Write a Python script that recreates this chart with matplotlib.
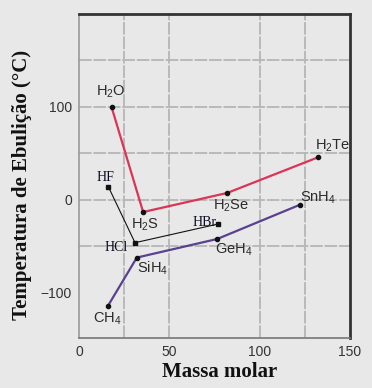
import matplotlib
matplotlib.use("Agg")
import matplotlib.pyplot as plt

# Data
grp16_names = ["H$_2$O", "H$_2$S", "H$_2$Se", "H$_2$Te"]
grp16_mass = [18, 35.5, 82, 132.5]
grp16_bp = [100, -13, 7.5, 46]

grp14_names = ["CH$_4$", "SiH$_4$", "GeH$_4$", "SnH$_4$"]
grp14_mass = [16, 32, 76.5, 122.5]
grp14_bp = [-114, -62, -42, -5]

grp17_names = ["HF", "HCl", "HBr"]
grp17_mass = [16.3, 31, 76.7]
grp17_bp = [14, -46, -26]

x_ticks = [0, 50, 100, 150]
y_ticks = [-100, 0, 100]
x_grid = [25, 50, 100, 125]
y_grid = [-50, 0, 50, 100, 150]

plt.rcParams['mathtext.default'] = 'regular'
BG = '#e8e8e8'
fig = plt.figure(figsize=(3.72, 3.88), dpi=100, facecolor=BG)
ax = fig.add_axes([79/372, 1-338/388, 271/372, 324/388], facecolor=BG)
ax.set_xlim(0, 150)
ax.set_ylim(-148.5, 200)

for gx in x_grid:
    ax.axvline(gx, color='#b6b6b6', lw=1.3, ls=(0, (7, 1)), zorder=0)
for gy in y_grid:
    ax.axhline(gy, color='#b6b6b6', lw=1.3, ls=(0, (7, 1)), zorder=0)

red = '#dc3455'
purple = '#5b3f90'
ax.plot(grp16_mass, grp16_bp, color=red, lw=1.6, zorder=2)
ax.plot(grp16_mass, grp16_bp, 'o', color='#111111', ms=3, zorder=3)
ax.plot(grp14_mass, grp14_bp, color=purple, lw=1.6, zorder=2)
ax.plot(grp14_mass, grp14_bp, 'o', color='#111111', ms=3, zorder=3)
ax.plot(grp17_mass, grp17_bp, color='#111111', lw=0.8, zorder=2)
ax.plot(grp17_mass, grp17_bp, 's', color='#111111', ms=2.5, zorder=3)

chem_font = dict(family='Liberation Sans', size=10.5, color='#2a2a2a')
# label offsets in pixels: (dx, dy, ha, va)
off16 = [(-1, 7, 'center', 'bottom'), (2, -5, 'center', 'top'),
         (4, -5, 'center', 'top'), (-3, 3, 'left', 'bottom')]
off14 = [(-1, -5, 'center', 'top'), (0, -2, 'left', 'top'),
         (-2, -3, 'left', 'top'), (0, -1, 'left', 'bottom')]
for n, x, y, o in zip(grp16_names, grp16_mass, grp16_bp, off16):
    ax.annotate(n, (x, y), xytext=(o[0], o[1]), textcoords='offset pixels',
                ha=o[2], va=o[3], **chem_font)
for n, x, y, o in zip(grp14_names, grp14_mass, grp14_bp, off14):
    ax.annotate(n, (x, y), xytext=(o[0], o[1]), textcoords='offset pixels',
                ha=o[2], va=o[3], **chem_font)

hal_font = dict(family='Liberation Serif', size=10, color='#0a0a20')
off17 = [(-3, 3, 'center', 'bottom'), (-7, -5, 'right', 'center'),
         (-1, 2, 'right', 'center')]
for n, x, y, o in zip(grp17_names, grp17_mass, grp17_bp, off17):
    ax.annotate(n, (x, y), xytext=(o[0], o[1]), textcoords='offset pixels',
                ha=o[2], va=o[3], **hal_font)

ax.set_xticks(x_ticks)
ax.set_yticks(y_ticks)
ax.set_xticklabels([str(v) for v in x_ticks])
ax.set_yticklabels(["\u2212100" if v == -100 else str(v) for v in y_ticks])
ax.tick_params(length=0, labelsize=10, colors='#333333', pad=5)
for lab in ax.get_xticklabels() + ax.get_yticklabels():
    lab.set_family('Liberation Sans')

ax.spines['top'].set_color('#333333')
ax.spines['top'].set_linewidth(2)
ax.spines['right'].set_color('#333333')
ax.spines['right'].set_linewidth(2)
ax.spines['left'].set_color('#999999')
ax.spines['left'].set_linewidth(1.2)
ax.spines['bottom'].set_color('#777777')
ax.spines['bottom'].set_linewidth(1.2)

fig.text(220/372, 1-372/388, "Massa molar", ha='center', va='center',
         family='Liberation Serif', weight='bold', size=15, color='#111111')
fig.text(22/372, 1-185/388, "Temperatura de Ebulição (°C)", ha='center', va='center',
         rotation=90, family='Liberation Serif', weight='bold', size=15, color='#111111')

fig.savefig('out.png', dpi=100, facecolor=BG)
